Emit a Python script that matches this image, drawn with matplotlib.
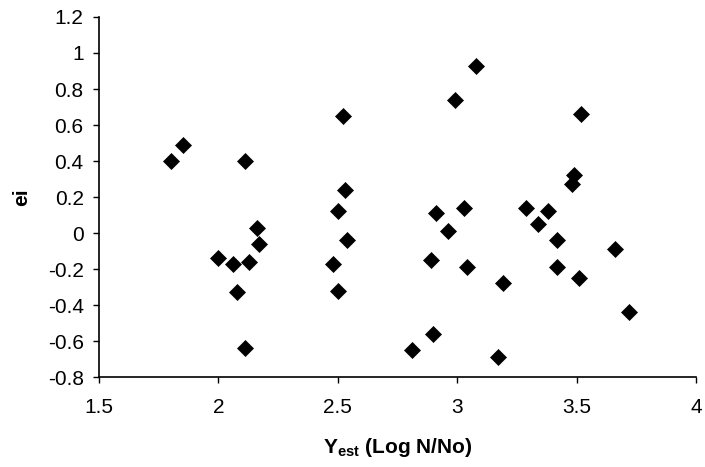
import matplotlib
matplotlib.use("Agg")
import matplotlib.pyplot as plt

plt.rcParams['font.family'] = ['Liberation Sans', 'DejaVu Sans']
plt.rcParams['mathtext.fontset'] = 'custom'
plt.rcParams['mathtext.rm'] = 'Liberation Sans:bold'
plt.rcParams['mathtext.bf'] = 'Liberation Sans:bold'

# estimated log reduction and the residual at each point
y_est = [1.80, 1.85, 2.11, 2.16, 2.52, 2.53, 2.50,
         2.00, 2.06, 2.13, 2.17, 2.08, 2.11, 2.48, 2.50, 2.54,
         3.08, 2.99, 3.52, 3.49, 3.48, 2.91, 3.03, 2.96, 3.29, 3.38, 3.34,
         3.42, 2.89, 3.04, 3.19, 3.42, 3.51, 3.66, 3.72, 2.90, 2.81, 3.17]
ei = [0.40, 0.49, 0.40, 0.03, 0.65, 0.24, 0.12,
      -0.14, -0.17, -0.16, -0.06, -0.33, -0.64, -0.17, -0.32, -0.04,
      0.93, 0.74, 0.66, 0.32, 0.27, 0.11, 0.14, 0.01, 0.14, 0.12, 0.05,
      -0.04, -0.15, -0.19, -0.28, -0.19, -0.25, -0.09, -0.44, -0.56, -0.65, -0.69]

x_ticks = [1.5, 2, 2.5, 3, 3.5, 4]
y_ticks = [-0.8, -0.6, -0.4, -0.2, 0, 0.2, 0.4, 0.6, 0.8, 1, 1.2]

fig = plt.figure(figsize=(7.05, 4.67), dpi=100)
ax = fig.add_axes([0.1404, 0.1927, 0.8468, 0.7709])

ax.plot(y_est, ei, linestyle='none', marker='D', markersize=8,
        color='black', markeredgewidth=0.5)

ax.set_xlim(1.5, 4)
ax.set_ylim(-0.8, 1.2)
ax.set_xticks(x_ticks)
ax.set_xticklabels([f"{t:g}" for t in x_ticks])
ax.set_yticks(y_ticks)
ax.set_yticklabels([f"{t:g}" for t in y_ticks])
ax.tick_params(direction='out', length=4, width=1, labelsize=15)
ax.tick_params(axis='x', pad=11)
ax.tick_params(axis='y', pad=7)

for side in ['top', 'right']:
    ax.spines[side].set_visible(False)
for side in ['left', 'bottom']:
    ax.spines[side].set_linewidth(1.2)

ax.set_ylabel('ei', fontsize=15, fontweight='bold', labelpad=12)
ax.set_xlabel(r'$\mathregular{Y_{est}}$ (Log N/No)', fontsize=15,
              fontweight='bold', labelpad=14)

fig.savefig('out.png', dpi=100)
